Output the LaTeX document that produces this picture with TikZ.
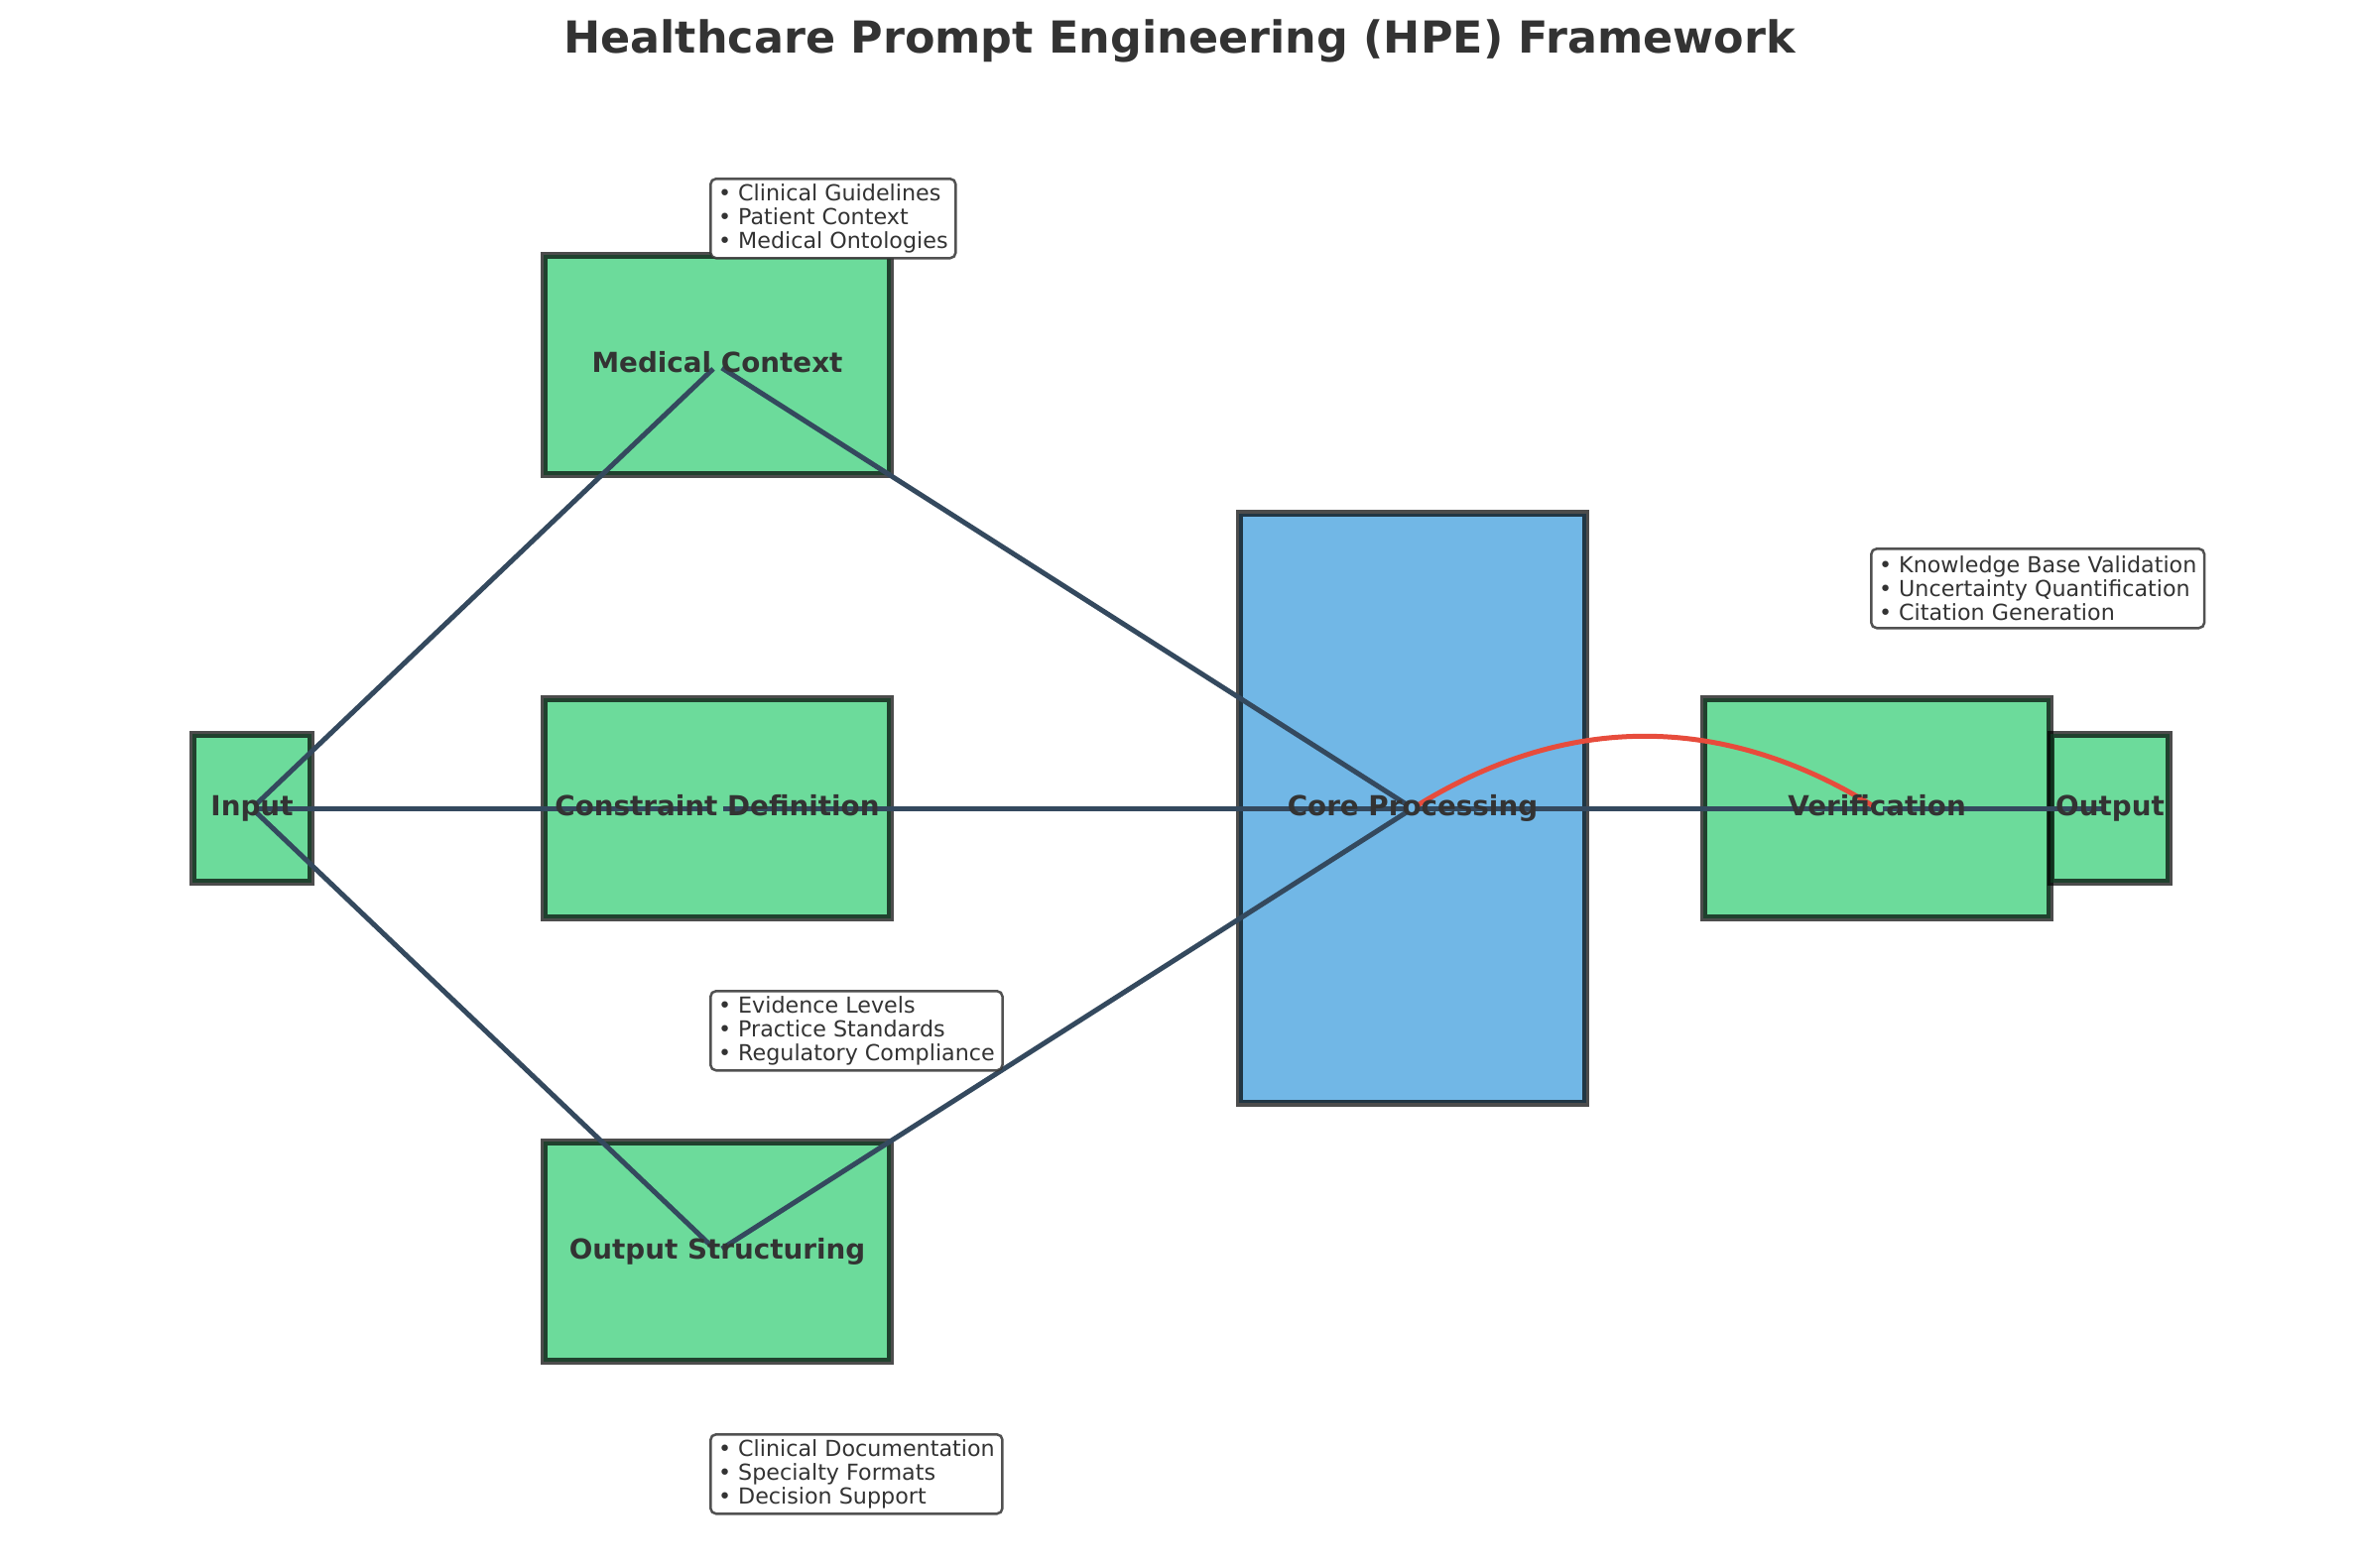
\documentclass[tikz,border=0pt]{standalone}
\usepackage{fontspec}
\setmainfont{DejaVu Sans}
\definecolor{txt}{HTML}{333333}
\definecolor{gfill}{HTML}{2ECC71}
\definecolor{bfill}{HTML}{3498DB}
\definecolor{conn}{HTML}{34495E}
\definecolor{redc}{HTML}{E74C3C}
\tikzset{
  box/.style={rectangle, draw=black, draw opacity=0.7, line width=2.4pt, fill=gfill, fill opacity=0.7, inner sep=0pt},
  smallbox/.style={box, minimum width=43pt, minimum height=53.8pt},
  bigbox/.style={box, minimum width=125.8pt, minimum height=79.7pt},
  corebox/.style={box, fill=bfill, minimum width=125.8pt, minimum height=214pt},
  lbl/.style={text=txt, font=\fontsize{10}{12}\selectfont\bfseries, inner sep=0pt, text height=7.3pt, text depth=0pt, yshift=1pt},
  conline/.style={draw=conn, line width=1.8pt, shorten <=2pt, shorten >=2pt},
  fbline/.style={draw=redc, line width=1.8pt, shorten <=2pt, shorten >=2pt},
  note/.style={draw=txt, draw opacity=0.85, line width=0.9pt, rounded corners=2pt, fill=white, text=txt, align=left, anchor=north west, inner xsep=2.8pt, inner ysep=2pt, minimum height=28.8pt, font=\fontsize{8}{8.5}\selectfont},
  titlestyle/.style={text=txt, font=\fontsize{16}{19}\selectfont\bfseries, anchor=base, inner sep=0pt}
}
\begin{document}
\begin{tikzpicture}[x=0.36pt, y=-0.36pt]
\useasboundingbox (0,0) rectangle (2379,1580);
% title
\node[titlestyle] (title) at (1189,53) {Healthcare Prompt Engineering (HPE) Framework};
% boxes
\node[smallbox] (input) at (254,815) {};
\node[bigbox] (med) at (723,368) {};
\node[bigbox] (cons) at (723,815) {};
\node[bigbox] (outs) at (723,1262) {};
\node[corebox] (core) at (1424,815) {};
\node[bigbox] (verif) at (1892,815) {};
\node[smallbox] (out) at (2127,815) {};
% connectors
\draw[conline] (input.center) -- (med.center);
\draw[conline] (input.center) -- (cons.center);
\draw[conline] (input.center) -- (outs.center);
\draw[conline] (med.center) -- (core.center);
\draw[conline] (cons.center) -- (core.center);
\draw[conline] (outs.center) -- (core.center);
\draw[conline] (core.center) -- (verif.center);
\draw[conline] (verif.center) -- (out.center);
\draw[fbline] (core.center) .. controls +(156,-96) and +(-156,-96) .. (verif.center);
% labels
\node[lbl] (inputl) at (input.center) {Input};
\node[lbl] (medl) at (med.center) {Medical Context};
\node[lbl] (consl) at (cons.center) {Constraint Definition};
\node[lbl] (outsl) at (outs.center) {Output Structuring};
\node[lbl] (corel) at (core.center) {Core Processing};
\node[lbl] (verifl) at (verif.center) {Verification};
\node[lbl] (outl) at (out.center) {Output};
% notes
\node[note] (medn) at (715,179) {• Clinical Guidelines\\• Patient Context\\• Medical Ontologies};
\node[note] (consn) at (715,998) {• Evidence Levels\\• Practice Standards\\• Regulatory Compliance};
\node[note] (outsn) at (715,1445) {• Clinical Documentation\\• Specialty Formats\\• Decision Support};
\node[note] (verifn) at (1885,552) {• Knowledge Base Validation\\• Uncertainty Quantification\\• Citation Generation};
\end{tikzpicture}
\end{document}
